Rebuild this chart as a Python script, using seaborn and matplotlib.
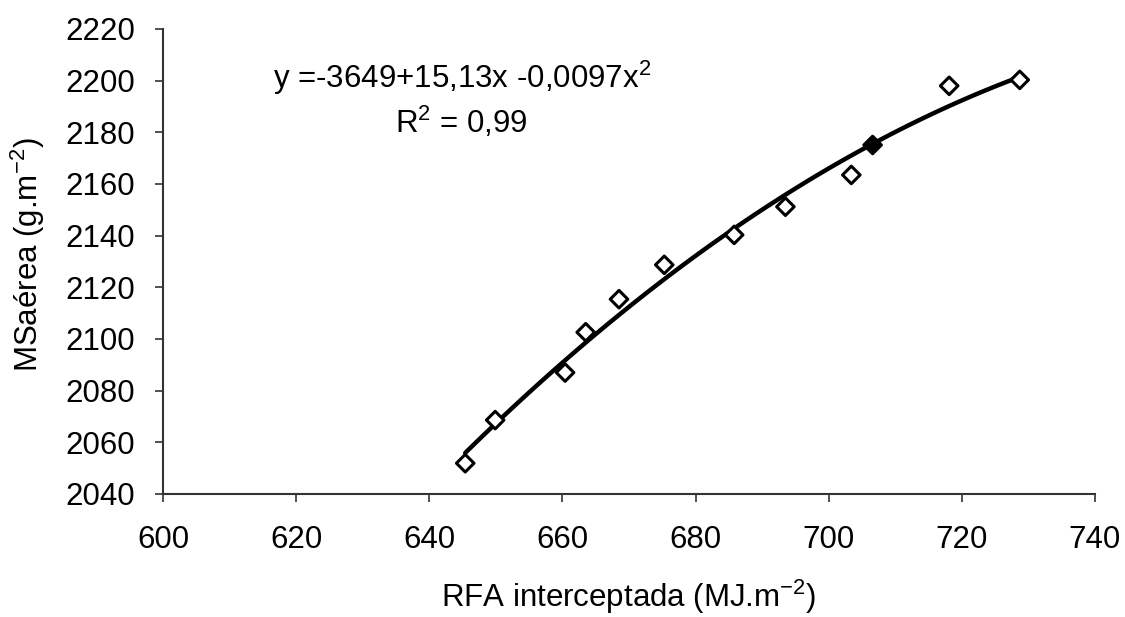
import matplotlib
matplotlib.use("Agg")
import matplotlib.pyplot as plt
import seaborn as sns
import pandas as pd

# Data
rfa = [645.4, 649.9, 660.4, 663.5, 668.5, 675.3, 685.8, 693.5, 703.4, 706.6, 718.1, 728.7]
msaerea = [2051.9, 2068.6, 2087.0, 2102.6, 2115.4, 2128.7, 2140.3, 2151.2, 2163.5, 2175.1, 2198.0, 2200.3]
x_ticks = [600, 620, 640, 660, 680, 700, 720, 740]
y_ticks = [2040, 2060, 2080, 2100, 2120, 2140, 2160, 2180, 2200, 2220]
equation = "y =-3649+15,13x -0,0097x$^2$"
r2_text = "R$^2$ = 0,99"

df = pd.DataFrame({"rfa": rfa, "ms": msaerea})

sns.set_theme(style="white")
plt.rcParams["font.family"] = ["Liberation Sans", "DejaVu Sans"]
plt.rcParams["mathtext.fontset"] = "custom"
plt.rcParams["mathtext.rm"] = "Liberation Sans"
plt.rcParams["mathtext.it"] = "Liberation Sans:italic"
plt.rcParams["mathtext.bf"] = "Liberation Sans:bold"
plt.rcParams["mathtext.default"] = "rm"
plt.rcParams["text.color"] = "black"

FS = 22.5

fig = plt.figure(figsize=(11.25, 6.17), dpi=100)
ax = fig.add_axes([0.1449, 0.1994, 0.8284, 0.7536])

sns.regplot(data=df, x="rfa", y="ms", order=2, ci=None, truncate=True,
            scatter=False, ax=ax, line_kws=dict(color="black", lw=3.2))

face = ["white"] * len(rfa)
face[9] = "black"
ax.scatter(rfa, msaerea, marker="D", s=80, facecolors=face,
           edgecolors="black", linewidths=2.2, zorder=3)

ax.set_xlim(600, 740)
ax.set_ylim(2040, 2220)
ax.set_xticks(x_ticks)
ax.set_yticks(y_ticks)
ax.tick_params(axis="both", labelsize=FS, length=6, width=1.2, color="#333333",
               labelcolor="black", direction="out", bottom=True, left=True)
ax.tick_params(axis="y", pad=14)
ax.tick_params(axis="x", pad=16)

for s in ["top", "right"]:
    ax.spines[s].set_visible(False)
for s in ["left", "bottom"]:
    ax.spines[s].set_color("#333333")
    ax.spines[s].set_linewidth(1.5)

ax.set_xlabel("RFA interceptada (MJ.m$^{-2}$)", fontsize=FS, labelpad=17, color="black")
ax.set_ylabel("MSaérea (g.m$^{-2}$)", fontsize=FS, labelpad=12, color="black")
ax.yaxis.set_label_coords(-0.125, 0.515)

ax.text(644.9, 2201, equation, fontsize=FS, ha="center", va="center")
ax.text(644.9, 2184, r2_text, fontsize=FS, ha="center", va="center")

fig.savefig("out.png", dpi=100, facecolor="white")
